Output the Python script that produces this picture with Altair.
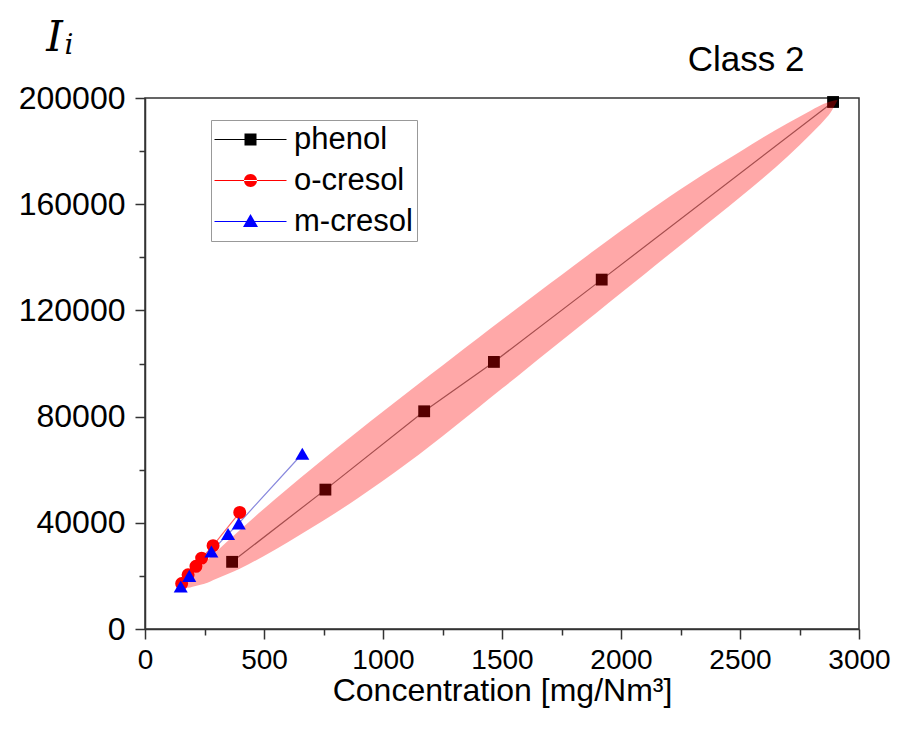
import altair as alt
import pandas as pd

# ---------------- data ----------------
series_names = ["phenol", "o-cresol", "m-cresol"]

phenol_x = [366, 758, 1173, 1466, 1919, 2891]
phenol_y = [25300, 52500, 82000, 100600, 131600, 198500]

ocresol_x = [154, 181, 214, 238, 286, 398]
ocresol_y = [17100, 20400, 23600, 26700, 31400, 43900]

mcresol_x = [150, 186, 279, 349, 394, 661]
mcresol_y = [16000, 20000, 29200, 35800, 39800, 66000]

# shaded band around phenol (lower / upper edge read at each x)
band_x = [160, 180, 200, 250, 300, 400, 500, 600, 700, 800, 900, 1000, 1100,
          1200, 1300, 1400, 1500, 1600, 1700, 1800, 1900, 2000, 2100, 2200,
          2300, 2400, 2500, 2600, 2700, 2800, 2850, 2880, 2910]
band_lower = [15440, 15500, 15900, 17000, 18900, 22800, 27500, 32700, 38100,
              43700, 49600, 55800, 62300, 69150, 76200, 83350, 90550, 97750,
              104950, 112150, 119350, 126550, 133750, 140950, 148150, 155350,
              162600, 170100, 178000, 186600, 191200, 194400, 199220]
band_upper = [15440, 18200, 20600, 25000, 29190, 37390, 45290, 52940, 60390,
              67690, 74840, 81890, 88890, 95850, 102770, 109650, 116490,
              123290, 130040, 136740, 143390, 149990, 156390, 162590, 168550,
              174270, 179790, 185290, 190490, 195390, 197700, 198700, 199220]

x_ticks = list(range(0, 3001, 250))
y_ticks = list(range(0, 200001, 20000))

marker_colors = ["#000000", "#ff0000", "#0000ff"]
line_colors = ["#777777", "#ff6666", "#8888dd"]
marker_shapes = ["square", "circle", "triangle-up"]
marker_sizes = [140, 196, 250]
# legend symbols: line sample + marker
legend_shapes = [
    "M-3.6,-0.05H3.6V0.05H-3.6Z M-0.6,-0.6H0.6V0.6H-0.6Z",
    "M-3.6,-0.05H3.6V0.05H-3.6Z M-0.65,0A0.65,0.65 0 1,0 0.65,0A0.65,0.65 0 1,0 -0.65,0Z",
    "M-3.6,-0.05H3.6V0.05H-3.6Z M0,-0.75L0.75,0.55H-0.75Z",
]

panel_label = ["Class 2"]
y_title_main = "I"
y_title_sub = ["i"]

# ---------------- tables ----------------
rows = []
for name, xs, ys in zip(series_names,
                        [phenol_x, ocresol_x, mcresol_x],
                        [phenol_y, ocresol_y, mcresol_y]):
    for xv, yv in zip(xs, ys):
        rows.append({"series": name, "conc": xv, "I": yv})
pts = pd.DataFrame(rows)
band = pd.DataFrame({"conc": band_x, "lo": band_lower, "hi": band_upper})
label_df = pd.DataFrame({"txt": panel_label})
sub_df = pd.DataFrame({"txt": y_title_sub})

FONT = "Liberation Sans"
SERIF = "DejaVu Serif"

xscale = alt.Scale(domain=[0, 3000], nice=False, zero=False)
yscale = alt.Scale(domain=[0, 200000], nice=False, zero=False)

x_axis = alt.Axis(
    values=x_ticks,
    labelExpr="datum.value % 500 === 0 ? datum.label : ''",
    format="d",
    tickSize={"condition": {"test": "datum.value % 500 !== 0", "value": 6}, "value": 10},
    grid=False, labelFontSize=28, labelFont=FONT, labelColor="black",
    labelPadding=7, labelFlush=False, labelOverlap=False,
    domainColor="#333333", domainWidth=1.5, tickColor="#333333", tickWidth=1.5,
    title="Concentration [mg/Nm³]", titleFontSize=32, titleFont=FONT,
    titleFontWeight="normal", titleColor="black", titlePadding=1,
)
y_axis = alt.Axis(
    values=y_ticks,
    labelExpr="datum.value % 40000 === 0 ? datum.label : ''",
    format="d",
    tickSize={"condition": {"test": "datum.value % 40000 !== 0", "value": 6}, "value": 10},
    grid=False, labelFontSize=32, labelFont=FONT, labelColor="black",
    labelPadding=10, labelFlush=False, labelOverlap=False,
    domainColor="#333333", domainWidth=1.5, tickColor="#333333", tickWidth=1.5,
    title=y_title_main, titleAngle=0, titleX=-91, titleY=-61, titleAlign="center",
    titleBaseline="middle", titleFont=SERIF, titleFontStyle="italic",
    titleFontSize=42, titleFontWeight="normal", titleColor="black",
)

base = alt.Chart(pts)

color_lines = alt.Color("series:N", scale=alt.Scale(domain=series_names, range=line_colors), legend=None)
color_marks = alt.Color("series:N", scale=alt.Scale(domain=series_names, range=marker_colors), legend=None)
shape_marks = alt.Shape("series:N", scale=alt.Scale(domain=series_names, range=marker_shapes), legend=None)
size_marks = alt.Size("series:N", scale=alt.Scale(domain=series_names, range=marker_sizes), legend=None)

phenol_line = base.transform_filter("datum.series === 'phenol'").mark_line(strokeWidth=1.2).encode(
    x=alt.X("conc:Q", scale=xscale, axis=x_axis),
    y=alt.Y("I:Q", scale=yscale, axis=y_axis),
    color=color_lines,
)
phenol_pts = base.transform_filter("datum.series === 'phenol'").mark_point(filled=True, opacity=1).encode(
    x="conc:Q", y="I:Q", color=color_marks, shape=shape_marks, size=size_marks,
)
band_area = alt.Chart(band).mark_area(color="#ff0000", opacity=0.34, interpolate="monotone").encode(
    x="conc:Q", y="lo:Q", y2="hi:Q",
)
others_line = base.transform_filter("datum.series !== 'phenol'").mark_line(strokeWidth=1.2).encode(
    x="conc:Q", y="I:Q", color=color_lines, detail="series:N",
)
others_pts = base.transform_filter("datum.series !== 'phenol'").mark_point(filled=True, opacity=1).encode(
    x="conc:Q", y="I:Q", color=color_marks, shape=shape_marks, size=size_marks,
)
legend_layer = base.transform_filter("false").mark_point(filled=True, opacity=1).encode(
    x="conc:Q", y="I:Q",
    color=alt.Color("series:N", scale=alt.Scale(domain=series_names, range=marker_colors),
                    legend=alt.Legend(
                        title=None, orient="none", legendX=66, legendY=22,
                        symbolSize=400, symbolOffset=20, symbolStrokeWidth=0,
                        labelFontSize=31, labelFont=FONT, labelColor="black",
                        labelOffset=28, rowPadding=9, padding=4,
                        strokeColor="#999999", fillColor="white",
                    )),
    shape=alt.Shape("series:N", scale=alt.Scale(domain=series_names, range=legend_shapes)),
)
panel_text = alt.Chart(label_df).mark_text(
    fontSize=35, font=FONT, color="black", align="center", baseline="middle"
).encode(
    text="txt:N", x=alt.value(601), y=alt.value(-38),
)
sub_text = alt.Chart(sub_df).mark_text(
    fontSize=28, font=SERIF, fontStyle="italic", color="black", align="center", baseline="middle"
).encode(
    text="txt:N", x=alt.value(-76), y=alt.value(-52),
)

chart = alt.layer(
    phenol_line, phenol_pts, band_area, others_line, others_pts, legend_layer,
    panel_text, sub_text
).resolve_scale(
    color="independent", shape="independent", size="independent"
).properties(
    width=714, height=531,
    autosize=alt.AutoSizeParams(type="none"),
    padding={"left": 137, "top": 90, "right": 45, "bottom": 101},
).configure(
    background="white"
).configure_view(
    stroke="#333333", strokeWidth=1.5
)

chart.save("out.html", embed_options={"renderer": "svg", "actions": False})
